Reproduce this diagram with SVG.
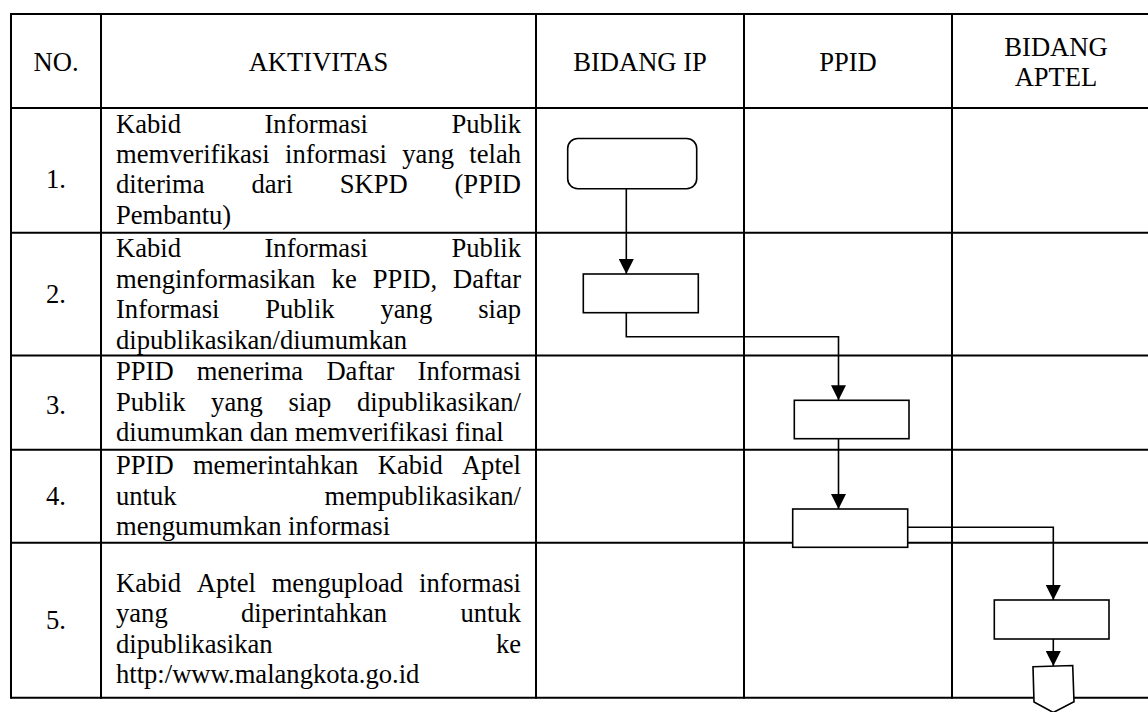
<svg xmlns="http://www.w3.org/2000/svg" width="1148" height="712" viewBox="0 0 1148 712">
  <style>
    .grid { stroke: #000; stroke-width: 2; fill: none; }
    .t { font-family: "Liberation Serif", "Times New Roman", "DejaVu Serif", serif; font-size: 26.6px; fill: #000; }
    .c { text-anchor: middle; }
    .e { text-anchor: end; }
    .node { fill: #fff; stroke: #000; stroke-width: 1.6; }
    .flow { fill: none; stroke: #000; stroke-width: 1.6; }
  </style>
  <defs>
    <marker id="arrow" markerUnits="userSpaceOnUse" markerWidth="15" markerHeight="15" refX="15" refY="7.5" orient="auto">
      <path d="M0,0 L15,7.5 L0,15 z" fill="#000"/>
    </marker>
  </defs>

  <rect width="1148" height="712" fill="#fff"/>

  <!-- table grid -->
  <g id="table" class="grid">
    <line x1="11" y1="14" x2="1160" y2="14"/>
    <line x1="11" y1="108" x2="1160" y2="108"/>
    <line x1="11" y1="232.7" x2="1160" y2="232.7"/>
    <line x1="11" y1="355.5" x2="1160" y2="355.5"/>
    <line x1="11" y1="449.7" x2="1160" y2="449.7"/>
    <line x1="11" y1="542.7" x2="1160" y2="542.7"/>
    <line x1="11" y1="697.7" x2="1160" y2="697.7"/>
    <line x1="11" y1="13" x2="11" y2="698.7"/>
    <line x1="101" y1="13" x2="101" y2="698.7"/>
    <line x1="536" y1="13" x2="536" y2="698.7"/>
    <line x1="744" y1="13" x2="744" y2="698.7"/>
    <line x1="952" y1="13" x2="952" y2="698.7"/>
  </g>

  <!-- column headings -->
  <g id="header" class="t" font-family="Liberation Serif, serif">
    <text x="56" y="70.5" class="c">NO.</text>
    <text x="318.5" y="70.5" class="c">AKTIVITAS</text>
    <text x="640" y="70.5" class="c">BIDANG IP</text>
    <text x="848" y="70.5" class="c">PPID</text>
    <text x="1056" y="55.5" class="c">BIDANG</text>
    <text x="1056" y="85.5" class="c">APTEL</text>
  </g>

  <!-- step 1 -->
  <g id="row1" class="t" font-family="Liberation Serif, serif">
    <text x="56" y="188" class="c">1.</text>
    <text y="132.6"><tspan x="116">Kabid</tspan><tspan x="264.5">Informasi</tspan><tspan x="521" class="e">Publik</tspan></text>
    <text y="163"><tspan x="116">memverifikasi</tspan><tspan x="285">informasi</tspan><tspan x="402.3">yang</tspan><tspan x="521" class="e">telah</tspan></text>
    <text y="193.4"><tspan x="116">diterima</tspan><tspan x="251.5">dari</tspan><tspan x="339.7">SKPD</tspan><tspan x="521" class="e">(PPID</tspan></text>
    <text x="116" y="223.8">Pembantu)</text>
  </g>

  <!-- step 2 -->
  <g id="row2" class="t" font-family="Liberation Serif, serif">
    <text x="56" y="303" class="c">2.</text>
    <text y="257.3"><tspan x="116">Kabid</tspan><tspan x="264.5">Informasi</tspan><tspan x="521" class="e">Publik</tspan></text>
    <text y="287.7"><tspan x="116">menginformasikan</tspan><tspan x="331.6">ke</tspan><tspan x="372.8">PPID,</tspan><tspan x="521" class="e">Daftar</tspan></text>
    <text y="318.1"><tspan x="116">Informasi</tspan><tspan x="265.2">Publik</tspan><tspan x="380.5">yang</tspan><tspan x="521" class="e">siap</tspan></text>
    <text x="116" y="348.5">dipublikasikan/diumumkan</text>
  </g>

  <!-- step 3 -->
  <g id="row3" class="t" font-family="Liberation Serif, serif">
    <text x="56" y="414" class="c">3.</text>
    <text y="380.1"><tspan x="116">PPID</tspan><tspan x="196.8">menerima</tspan><tspan x="326.4">Daftar</tspan><tspan x="521" class="e">Informasi</tspan></text>
    <text y="410.5"><tspan x="116">Publik</tspan><tspan x="211.1">yang</tspan><tspan x="288.4">siap</tspan><tspan x="521" class="e">dipublikasikan/</tspan></text>
    <text x="116" y="440.9">diumumkan dan memverifikasi final</text>
  </g>

  <!-- step 4 -->
  <g id="row4" class="t" font-family="Liberation Serif, serif">
    <text x="56" y="505.2" class="c">4.</text>
    <text y="474.3"><tspan x="116">PPID</tspan><tspan x="192.9">memerintahkan</tspan><tspan x="377.7">Kabid</tspan><tspan x="521" class="e">Aptel</tspan></text>
    <text y="504.7"><tspan x="116">untuk</tspan><tspan x="521" class="e">mempublikasikan/</tspan></text>
    <text x="116" y="535.1">mengumumkan informasi</text>
  </g>

  <!-- step 5 -->
  <g id="row5" class="t" font-family="Liberation Serif, serif">
    <text x="56" y="629.2" class="c">5.</text>
    <text y="592"><tspan x="116">Kabid</tspan><tspan x="196.8">Aptel</tspan><tspan x="271.7">mengupload</tspan><tspan x="521" class="e">informasi</tspan></text>
    <text y="622.4"><tspan x="116">yang</tspan><tspan x="240.9">diperintahkan</tspan><tspan x="521" class="e">untuk</tspan></text>
    <text y="652.8"><tspan x="116">dipublikasikan</tspan><tspan x="521" class="e">ke</tspan></text>
    <text x="116" y="683.2">http:/www.malangkota.go.id</text>
  </g>

  <!-- flow connectors -->
  <g id="connectors" class="flow">
    <line x1="626.3" y1="188.7" x2="626.3" y2="274" marker-end="url(#arrow)"/>
    <polyline points="626.3,312.7 626.3,336.7 838.5,336.7 838.5,400.3" marker-end="url(#arrow)"/>
    <line x1="838.5" y1="438.7" x2="838.5" y2="509" marker-end="url(#arrow)"/>
    <polyline points="907.7,527.3 1053.3,527.3 1053.3,600" marker-end="url(#arrow)"/>
    <line x1="1053.3" y1="639" x2="1053.3" y2="666" marker-end="url(#arrow)"/>
  </g>

  <!-- flow nodes -->
  <g id="node-start">
    <rect class="node" x="567.7" y="138.5" width="129" height="50.2" rx="10" ry="10"/>
  </g>
  <g id="node-inform">
    <rect class="node" x="583.3" y="274" width="115" height="38.7"/>
  </g>
  <g id="node-receive">
    <rect class="node" x="794.3" y="400.3" width="114.7" height="38.4"/>
  </g>
  <g id="node-order">
    <rect class="node" x="792.7" y="509" width="115" height="38.3"/>
  </g>
  <g id="node-upload">
    <rect class="node" x="994.3" y="600" width="114.7" height="39"/>
  </g>
  <g id="node-offpage">
    <polygon class="node" points="1033,666.8 1072.7,665.5 1074,701.7 1053.3,712.5 1034,702"/>
  </g>
</svg>
